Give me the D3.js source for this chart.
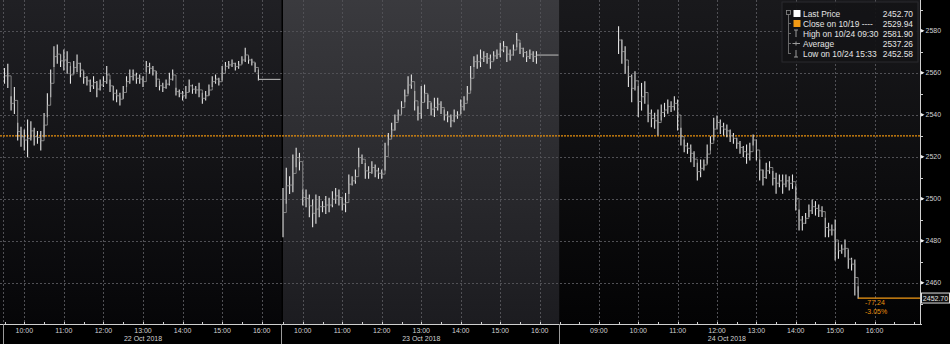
<!DOCTYPE html>
<html lang="en">
<head>
<meta charset="UTF-8">
<title>Intraday price, 22-24 Oct 2018</title>
<script src="https://d3js.org/d3.v7.min.js"></script>
<style>
    body { margin: 0; background: #000; }
    text { font-family: "Liberation Sans", Arial, sans-serif; }
</style>
</head>
<body>
<script>
// session days
const dayLabels = ["22 Oct 2018", "23 Oct 2018", "24 Oct 2018"]
const dayStart = [9.5, 9.5, 8]        // axis start (hours)
const dayEnd = [16.5, 16.5, 17.18]    // axis end (hours)
const sessionEnd = [16.5, 16.5, 16.5]
const dayHours = [[10, 11, 12, 13, 14, 15, 16], [10, 11, 12, 13, 14, 15, 16], [9, 10, 11, 12, 13, 14, 15, 16]]

// 5 minute bars from 09:30
const day1High = [2562, 2564, 2548.6, 2553, 2535.9, 2534, 2532.7, 2537.5, 2536.6, 2533.5, 2532, 2532, 2540.6, 2550, 2561.3, 2572.4,
    2573.2, 2568.4, 2570.8, 2570, 2562.9, 2565.3, 2568.4, 2564.5, 2560.5, 2558.1, 2556.5, 2558.1, 2555.8, 2556.5, 2558.1, 2562.9,
    2556.5, 2553.4, 2551.8, 2550.2, 2553.4, 2558.1, 2561.3, 2561.3, 2559.7, 2558.9, 2558.1, 2565.3, 2564.5, 2562.9, 2560.5, 2555.8,
    2555, 2556.5, 2559.7, 2561.3, 2552.6, 2551.8, 2551, 2553.4, 2556.5, 2554.1, 2553.4, 2555, 2550.2, 2551, 2554.1, 2558.1,
    2558.9, 2557.3, 2562.9, 2564.8, 2565.3, 2566, 2564.5, 2565.3, 2567.6, 2571.6, 2567.6, 2566.4, 2564.5, 2561.3]
const day1Low = [2555, 2553, 2542.2, 2540.6, 2528, 2525, 2523.2, 2520, 2528, 2525.6, 2526.4, 2523.2, 2529.5, 2539, 2548.6, 2562.9,
    2564.5, 2562.9, 2561.3, 2559.7, 2555, 2559.7, 2560.5, 2558.1, 2555, 2554.1, 2551, 2552.5, 2548.6, 2551.8, 2553.4, 2555,
    2551, 2547, 2546.2, 2544.6, 2547.8, 2553.4, 2555, 2556.5, 2555, 2555, 2553.4, 2560.5, 2559.7, 2558.9, 2553.4, 2551.8,
    2551, 2552.6, 2554.1, 2556.5, 2549.4, 2548.6, 2547, 2547.8, 2551, 2550.2, 2550.2, 2548.6, 2545.4, 2547, 2549.4, 2553.4,
    2555, 2554.1, 2556.5, 2561.3, 2562.1, 2562.9, 2561.3, 2562.1, 2564.5, 2565.3, 2564.5, 2563.7, 2560.5, 2556.5]
const day1Final = 2556.8

const day2High = [2504.9, 2514.5, 2510.5, 2520.8, 2524, 2521.6, 2504.1, 2504.1, 2501.8, 2499.4, 2501.8, 2501, 2498.6, 2501, 2500.2, 2503.3,
    2504.9, 2504.1, 2500.2, 2502.5, 2511.3, 2510.5, 2513.7, 2524, 2520.8, 2516.8, 2515.2, 2517.6, 2516, 2514.5, 2513.7, 2526.4,
    2531.1, 2535.9, 2539.9, 2542.2, 2546.2, 2551.8, 2558.1, 2558.9, 2551, 2543.8, 2553.4, 2554.1, 2549.4, 2545.4, 2547.8, 2547.8,
    2546.2, 2542.2, 2541.4, 2539.9, 2542.2, 2541.4, 2547, 2548.6, 2553.4, 2562.9, 2567.6, 2568.4, 2570.8, 2570, 2569.2, 2568.4,
    2570, 2570.8, 2574, 2574.8, 2572.4, 2570.8, 2573.2, 2578.7, 2574, 2571.6, 2570, 2570.8, 2570, 2570]
const day2Low = [2481.9, 2497.8, 2502.5, 2503.3, 2515.2, 2513.7, 2497, 2496.2, 2491.4, 2486.7, 2488.3, 2491.4, 2493.8, 2493, 2493.8, 2496.2,
    2497.8, 2497, 2494.6, 2493.8, 2502.5, 2506.5, 2507.3, 2515.2, 2516.8, 2509.7, 2509.7, 2512.1, 2510.5, 2509.7, 2509.7, 2513.7,
    2525.6, 2529.5, 2532.7, 2537.5, 2540.6, 2546.2, 2550.2, 2552.6, 2542.2, 2537.5, 2538.3, 2546.2, 2543, 2539.9, 2539.1, 2542.2,
    2540.6, 2537.5, 2536.7, 2534.3, 2536.7, 2538.3, 2540.6, 2542.2, 2547, 2551.8, 2562.9, 2562.1, 2562.9, 2565.3, 2564.5, 2562.1,
    2566, 2566.8, 2567.6, 2570, 2565.3, 2566, 2568.4, 2572.4, 2569.2, 2567.6, 2565.3, 2566.8, 2565.3, 2564.5]
const day2Final = 2568.4

const day3High = [2581.9, 2575.6, 2572.4, 2562.9, 2558.9, 2560.5, 2553.4, 2554.9, 2555.7, 2544.6, 2542.2, 2540.7, 2542.2, 2544.6, 2545.4, 2547,
    2546.2, 2548.6, 2547, 2533.5, 2527.9, 2526.4, 2525.6, 2522.4, 2516.9, 2518.4, 2518.4, 2525.6, 2529.5, 2538.3, 2539.1, 2537.5,
    2535.9, 2535.1, 2532.7, 2531.1, 2528.8, 2527.2, 2524.8, 2525.6, 2526.4, 2530.3, 2528, 2518.4, 2513.7, 2516.9, 2517.6, 2512.9,
    2512.1, 2511.3, 2511.3, 2511.3, 2510.5, 2511.3, 2505.7, 2494.6, 2491.5, 2493, 2497, 2499.4, 2498.6, 2497, 2496.2, 2490.7,
    2488.3, 2487.5, 2489.9, 2478.8, 2478, 2480.3, 2475.6, 2471.6, 2470.8, 2458.1]
const day3Low = [2569.2, 2564.5, 2559.7, 2553.4, 2546.2, 2551.8, 2539.1, 2542.2, 2545.4, 2536.7, 2534.3, 2533.5, 2530.3, 2537.5, 2539.1, 2540.7,
    2541.5, 2542.2, 2532.7, 2525.6, 2522.4, 2521.6, 2517.6, 2515.3, 2508.9, 2510.5, 2513.7, 2516.9, 2523.2, 2528, 2533.5, 2531.1,
    2530.3, 2529.5, 2527.2, 2526.4, 2524, 2521.6, 2520, 2516.9, 2518.4, 2525.6, 2518.4, 2508.9, 2506.5, 2509.7, 2512.1, 2506.5,
    2502.6, 2505.7, 2502.6, 2505.7, 2504.1, 2504.9, 2494.6, 2485.1, 2485.1, 2488.3, 2491.5, 2493, 2492.2, 2491.5, 2491.5, 2481.9,
    2481.9, 2482.7, 2470.8, 2471.6, 2474, 2472.4, 2466.9, 2466.1, 2454.1, 2452.58]

const lastPrice = 2452.70
const prevClose = 2529.94
const netChange = "-77.24"
const pctChange = "-3.05%"

const yTicks = [2460, 2480, 2500, 2520, 2540, 2560, 2580]

const legendLabels = ["Last Price", "Close on 10/19 ----", "High on 10/24 09:30", "Average", "Low on 10/24 15:33"]
const legendValues = ["2452.70", "2529.94", "2581.90", "2537.26", "2452.58"]

const W = 950, H = 344
const axisY = 324, axisX = 921
const barStep = 5 / 60

const svg = d3.select("body").append("svg")
    .attr("width", W)
    .attr("height", H)
    .style("display", "block")

svg.append("rect").attr("width", W).attr("height", H).attr("fill", "#000")

const y = d3.scaleLinear().domain([2460, 2580]).range([282.7, 30.7])

const xs = [
    d3.scaleLinear().domain([dayStart[0], dayEnd[0]]).range([4.5, 281.5]),
    d3.scaleLinear().domain([dayStart[1], dayEnd[1]]).range([283, 559.5]),
    d3.scaleLinear().domain([dayStart[2], dayEnd[2]]).range([559.5, axisX])
]

// panel backgrounds
const panelColors = [["#202024", "#060608"], ["#3a3a3e", "#1c1c20"], ["#19191c", "#030304"]]
const defs = svg.append("defs")
panelColors.forEach((c, i) => {
    const g = defs.append("linearGradient").attr("id", "bg" + i)
        .attr("x1", 0).attr("y1", 0).attr("x2", 0).attr("y2", 1)
    g.append("stop").attr("offset", "0%").attr("stop-color", c[0])
    g.append("stop").attr("offset", "100%").attr("stop-color", c[1])
})
xs.forEach((x, i) => {
    const x0 = i === 0 ? 0 : x.range()[0]
    svg.append("rect")
        .attr("x", x0).attr("y", 0)
        .attr("width", x.range()[1] - x0).attr("height", axisY)
        .attr("fill", "url(#bg" + i + ")")
})

// grid
const grid = svg.append("g").attr("stroke", "#505055").attr("stroke-width", 1)
    .attr("stroke-dasharray", "2,2").attr("shape-rendering", "crispEdges")
yTicks.forEach(v => {
    grid.append("line").attr("x1", 0).attr("x2", axisX).attr("y1", Math.round(y(v)) + 0.5).attr("y2", Math.round(y(v)) + 0.5)
})
grid.append("line").attr("x1", 3.5).attr("x2", 3.5).attr("y1", 0).attr("y2", axisY)
xs.forEach((x, i) => {
    dayHours[i].forEach(h => {
        const px = Math.round(x(h)) + 0.5
        grid.append("line").attr("x1", px).attr("x2", px).attr("y1", 0).attr("y2", axisY)
    })
})

// previous close line
svg.append("line")
    .attr("x1", 0).attr("x2", axisX)
    .attr("y1", y(prevClose)).attr("y2", y(prevClose))
    .attr("stroke", "#e8900c").attr("stroke-width", 1.3).attr("stroke-dasharray", "2,1")

// price bars
const days = [[day1High, day1Low, day1Final], [day2High, day2Low, day2Final], [day3High, day3Low, null]]
days.forEach(([hi, lo, fin], i) => {
    const x = xs[i]
    const bars = hi.map((h, j) => ({t: 9.5 + j * barStep, h: h, l: lo[j]}))
    svg.append("g").selectAll("line")
        .data(bars)
        .join("line")
        .attr("x1", d => x(d.t)).attr("x2", d => x(d.t))
        .attr("y1", d => y(d.h) - 0.5).attr("y2", d => y(d.l) + 0.5)
        .attr("stroke", "#e4e4e4").attr("stroke-width", 1.1)
    // connect bars with a thin step so it reads like the terminal chart
    svg.append("path")
        .datum(bars)
        .attr("fill", "none")
        .attr("stroke", "#9a9a9a").attr("stroke-width", 0.8)
        .attr("d", d3.line().curve(d3.curveStepAfter).x(d => x(d.t)).y(d => y((d.h + d.l) / 2)))
    if (fin !== null) {
        const tEnd = 9.5 + (hi.length - 1) * barStep
        svg.append("line")
            .attr("x1", x(tEnd)).attr("x2", x.range()[1] - 1)
            .attr("y1", y(fin)).attr("y2", y(fin))
            .attr("stroke", "#a8a8a8").attr("stroke-width", 1.2)
    }
})

// last price line
const x3 = xs[2]
const tLast = 9.5 + (day3High.length - 1) * barStep
svg.append("line")
    .attr("x1", x3(tLast)).attr("x2", axisX)
    .attr("y1", y(lastPrice)).attr("y2", y(lastPrice))
    .attr("stroke", "#f39a14").attr("stroke-width", 1.2)
svg.append("text").attr("x", 865).attr("y", y(lastPrice) + 7)
    .attr("fill", "#e8900c").style("font-size", "7px").text(netChange)
svg.append("text").attr("x", 865).attr("y", y(lastPrice) + 15.5)
    .attr("fill", "#e8900c").style("font-size", "7px").text(pctChange)

// x axis
svg.append("line").attr("x1", 0).attr("x2", axisX + 1)
    .attr("y1", axisY + 0.5).attr("y2", axisY + 0.5)
    .attr("stroke", "#cfcfcf").attr("stroke-width", 1)
xs.forEach((x, i) => {
    const halfHours = d3.range(Math.ceil(dayStart[i] * 2) / 2, dayEnd[i], 0.5)
    svg.append("g").selectAll("line").data(halfHours).join("line")
        .attr("x1", d => Math.round(x(d)) + 0.5).attr("x2", d => Math.round(x(d)) + 0.5)
        .attr("y1", axisY - 2).attr("y2", axisY)
        .attr("stroke", "#cfcfcf")
    svg.append("g").selectAll("text").data(dayHours[i]).join("text")
        .attr("x", d => x(d)).attr("y", 332.5)
        .attr("text-anchor", "middle").attr("fill", "#d2d2d2")
        .style("font-size", "7px")
        .text(d => d3.format("02")(d) + ":00")
    svg.append("text")
        .attr("x", x((dayStart[i] === 8 ? dayStart[i] : dayStart[i]) / 2 + sessionEnd[i] / 2))
        .attr("y", 341)
        .attr("text-anchor", "middle").attr("fill", "#d2d2d2")
        .style("font-size", "7px")
        .text(dayLabels[i])
})
// separators below the axis
;[3.5, 281.5, 559.5].forEach(px => {
    svg.append("line").attr("x1", px).attr("x2", px)
        .attr("y1", axisY).attr("y2", H)
        .attr("stroke", "#9a9a9a")
})

// y axis
const yAxis = svg.append("g").attr("transform", "translate(" + (axisX - 0.5) + ",0)")
yAxis.append("line").attr("x1", 0).attr("x2", 0).attr("y1", 0).attr("y2", axisY)
    .attr("stroke", "#cfcfcf")
const minor = d3.range(2450, 2595, 10)
yAxis.selectAll(".minor").data(minor).join("line")
    .attr("x1", 0).attr("x2", 2.5)
    .attr("y1", d => Math.round(y(d)) + 0.5).attr("y2", d => Math.round(y(d)) + 0.5)
    .attr("stroke", "#cfcfcf")
yAxis.selectAll(".tri").data(yTicks).join("path")
    .attr("d", d => "M0," + (y(d) - 2) + "L4," + y(d) + "L0," + (y(d) + 2) + "Z")
    .attr("fill", "#e8e8e8")
yAxis.selectAll(".lbl").data(yTicks).join("text")
    .attr("x", 5).attr("y", d => y(d) + 2.5)
    .attr("fill", "#d2d2d2").style("font-size", "7px")
    .text(d => d)

// last price box
svg.append("rect").attr("x", 921.5).attr("y", y(lastPrice) - 5).attr("width", 28).attr("height", 10)
    .attr("fill", "#101010").attr("stroke", "#e0e0e0").attr("stroke-width", 1)
svg.append("text").attr("x", 935.5).attr("y", y(lastPrice) + 2.5)
    .attr("text-anchor", "middle").attr("fill", "#e6e6e6").style("font-size", "7px")
    .text(lastPrice.toFixed(2))

// legend
const lg = svg.append("g")
lg.append("rect").attr("x", 782).attr("y", 2).attr("width", 136).attr("height", 60)
    .attr("fill", "#141416").attr("fill-opacity", 0.92).attr("stroke", "#2a2a2e")
const rowY = i => 13.5 + i * 10
lg.append("line").attr("x1", 788.5).attr("x2", 788.5).attr("y1", 14).attr("y2", 54)
    .attr("stroke", "#6a6a6a")
lg.append("rect").attr("x", 786.5).attr("y", 10.5).attr("width", 4).attr("height", 4)
    .attr("fill", "#141416").attr("stroke", "#8a8a8a").attr("stroke-width", 0.8)
legendLabels.forEach((lab, i) => {
    const cy = rowY(i)
    if (i > 0) lg.append("line").attr("x1", 788.5).attr("x2", 791).attr("y1", cy).attr("y2", cy).attr("stroke", "#6a6a6a")
    if (i === 0 || i === 1) {
        lg.append("rect").attr("x", 793.5).attr("y", cy - 3.5).attr("width", 7).attr("height", 7)
            .attr("fill", i === 0 ? "#ffffff" : "#f39a14")
    } else if (i === 2) {
        lg.append("path").attr("d", "M794," + (cy - 3.5) + "H798M796," + (cy - 3.5) + "V" + (cy + 3.5))
            .attr("stroke", "#9a9a9a").attr("fill", "none")
    } else if (i === 3) {
        lg.append("path").attr("d", "M792.5," + cy + "H800M796," + (cy - 2) + "V" + (cy + 2))
            .attr("stroke", "#9a9a9a").attr("fill", "none")
    } else {
        lg.append("path").attr("d", "M794," + (cy + 3.5) + "H798M796," + (cy - 3.5) + "V" + (cy + 3.5))
            .attr("stroke", "#9a9a9a").attr("fill", "none")
    }
    lg.append("text").attr("x", 803).attr("y", cy + 3)
        .attr("fill", "#e4e4e4").style("font-size", "8.4px").text(lab)
    lg.append("text").attr("x", 913).attr("y", cy + 3).attr("text-anchor", "end")
        .attr("fill", "#e4e4e4").style("font-size", "8.4px").text(legendValues[i])
})
</script>
</body>
</html>
